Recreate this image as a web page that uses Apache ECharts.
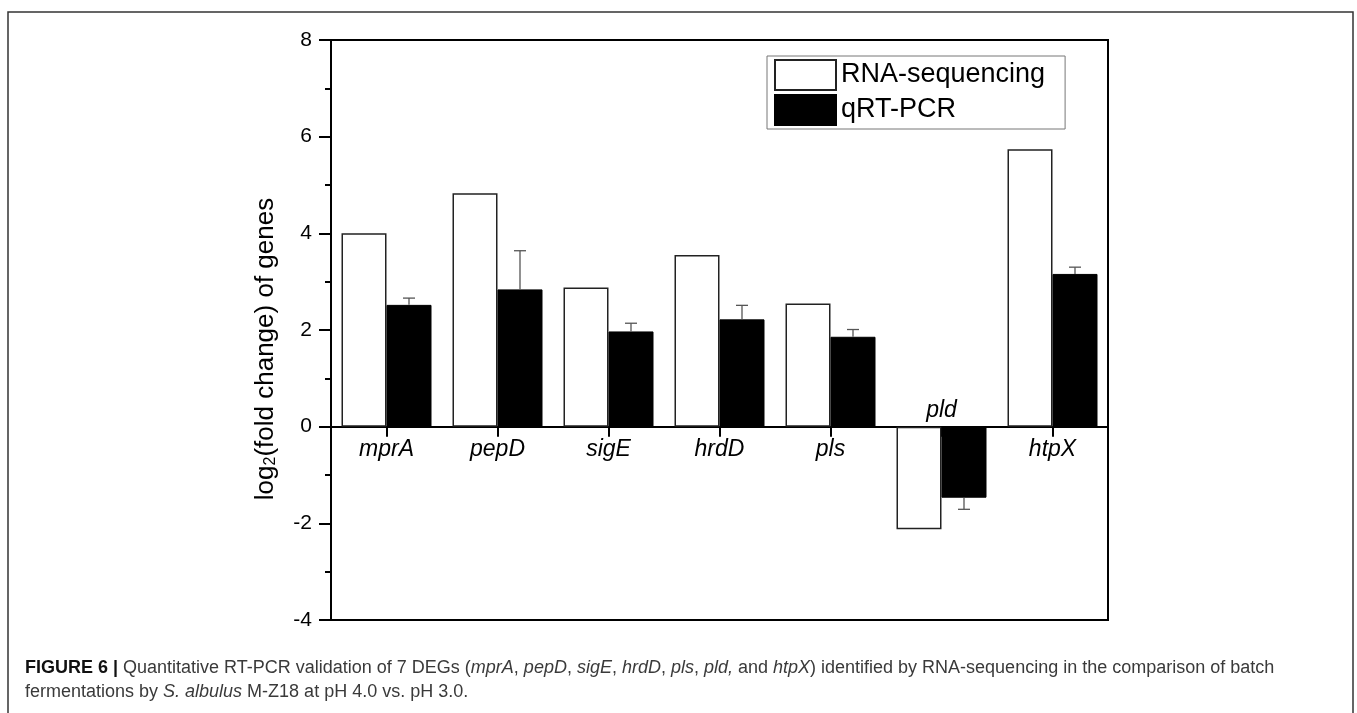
<!DOCTYPE html>
<html>
<head>
<meta charset="utf-8">
<script src="https://cdn.jsdelivr.net/npm/echarts@6/dist/echarts.min.js"></script>
<style>
  html, body { margin: 0; padding: 0; background: #fff; }
  #chart { width: 1357px; height: 713px; }
</style>
</head>
<body>
<div id="chart"></div>
<script>
// genes on the x axis
const genes = ['mprA', 'pepD', 'sigE', 'hrdD', 'pls', 'pld', 'htpX'];
// log2 fold change
const rnaSeq = [4.00, 4.83, 2.88, 3.55, 2.55, -2.12, 5.74];
const qrtPcr = [2.52, 2.84, 1.97, 2.22, 1.86, -1.47, 3.16];
const qrtPcrErr = [0.14, 0.80, 0.17, 0.29, 0.15, 0.24, 0.14];
const yTicks = [-4, -2, 0, 2, 4, 6, 8];

const BAR_W = 45;
const font = 'Liberation Sans, Arial, sans-serif';

const gridTop = 40, gridBottom = 93, H = 713;
const gridH = H - gridTop - gridBottom;
const yMin = yTicks[0], yMax = yTicks[yTicks.length - 1];
// put the category axis on y = 0
const zeroOffset = -gridH * (0 - yMin) / (yMax - yMin);

const chart = echarts.init(document.getElementById('chart'));

const errData = genes.map((g, i) => [i, qrtPcr[i], qrtPcrErr[i]]);

const option = {
  animation: false,
  textStyle: { fontFamily: font, color: '#000' },
  grid: {
    left: 331, top: gridTop, right: 249, bottom: gridBottom,
    show: true, borderColor: '#000', borderWidth: 2, backgroundColor: 'transparent'
  },
  legend: {
    orient: 'vertical',
    left: 767, top: 56,
    itemWidth: 61, itemHeight: 30, itemGap: 3,
    padding: [3, 20, 3, 7],
    borderColor: '#777', borderWidth: 1,
    icon: 'rect',
    textStyle: { fontSize: 27, fontFamily: font, color: '#000' },
    data: ['RNA-sequencing', 'qRT-PCR']
  },
  xAxis: {
    type: 'category',
    position: 'bottom',
    offset: zeroOffset,
    data: genes.map(g => g === 'pld'
      ? { value: g, textStyle: { verticalAlign: 'bottom', padding: [0, 0, 16, 0] } }
      : g),
    axisLine: { onZero: false, lineStyle: { color: '#000', width: 2 } },
    axisTick: { show: true, alignWithLabel: true, length: 10, lineStyle: { color: '#000', width: 2 } },
    axisLabel: { fontSize: 23, fontStyle: 'italic', color: '#000', margin: 11, interval: 0 },
    splitLine: { show: false }
  },
  yAxis: {
    type: 'value',
    min: yMin, max: yMax, interval: 2,
    name: '{a|log}{s|2}{a|(fold change) of genes}',
    nameLocation: 'middle',
    nameGap: 52,
    nameTextStyle: {
      padding: [0, 38, 0, 0],
      rich: {
        a: { fontSize: 26, fontFamily: font, color: '#000' },
        s: { fontSize: 16, fontFamily: font, color: '#000', verticalAlign: 'bottom', padding: [10, 0, 0, 0] }
      }
    },
    axisLine: { show: true, lineStyle: { color: '#000', width: 2 } },
    axisTick: { show: true, length: 12, lineStyle: { color: '#000', width: 2 } },
    minorTick: { show: true, splitNumber: 2, length: 6, lineStyle: { color: '#000', width: 2 } },
    axisLabel: { fontSize: 21, color: '#000', margin: 19 },
    splitLine: { show: false }
  },
  series: [
    {
      name: 'RNA-sequencing',
      type: 'bar',
      data: rnaSeq,
      barWidth: BAR_W,
      barGap: '0%',
      itemStyle: { color: '#fff', borderColor: '#222', borderWidth: 1.5 }
    },
    {
      name: 'qRT-PCR',
      type: 'bar',
      data: qrtPcr,
      barWidth: BAR_W,
      barGap: '0%',
      itemStyle: { color: '#000', borderColor: '#000', borderWidth: 1 }
    },
    {
      name: 'err',
      type: 'custom',
      data: errData,
      z: 5,
      encode: { x: 0, y: 1 },
      renderItem: function (params, api) {
        const i = api.value(0);
        const v = api.value(1);
        const e = api.value(2);
        const end = v >= 0 ? v + e : v - e;
        const p0 = api.coord([i, v]);
        const p1 = api.coord([i, end]);
        const x = p0[0] + BAR_W / 2;
        const style = { stroke: '#555', lineWidth: 1.3 };
        return {
          type: 'group',
          children: [
            { type: 'line', shape: { x1: x, y1: p0[1], x2: x, y2: p1[1] }, style: style },
            { type: 'line', shape: { x1: x - 6, y1: p1[1], x2: x + 6, y2: p1[1] }, style: style }
          ]
        };
      }
    }
  ],
  graphic: [
    {
      type: 'rect',
      shape: { x: 8, y: 12, width: 1345, height: 720 },
      style: { fill: 'none', stroke: '#333', lineWidth: 1.5 },
      silent: true
    },
    {
      type: 'text',
      left: 25, top: 656,
      style: {
        text: '{b|FIGURE 6 |} Quantitative RT-PCR validation of 7 DEGs ({i|mprA}, {i|pepD}, {i|sigE}, {i|hrdD}, {i|pls}, {i|pld,} and {i|htpX}) identified by RNA-sequencing in the comparison of batch\nfermentations by {i|S. albulus} M-Z18 at pH 4.0 vs. pH 3.0.',
        font: '18px "Liberation Sans", sans-serif',
        fill: '#3a3a3a',
        lineHeight: 24,
        rich: {
          b: { fontWeight: 'bold', fontSize: 18, fontFamily: '"Liberation Sans", sans-serif', fill: '#111', lineHeight: 24 },
          i: { fontStyle: 'italic', fontSize: 18, fontFamily: '"Liberation Sans", sans-serif', fill: '#3a3a3a', lineHeight: 24 }
        }
      }
    }
  ]
};

chart.setOption(option);
window.addEventListener('resize', () => chart.resize());
</script>
</body>
</html>
